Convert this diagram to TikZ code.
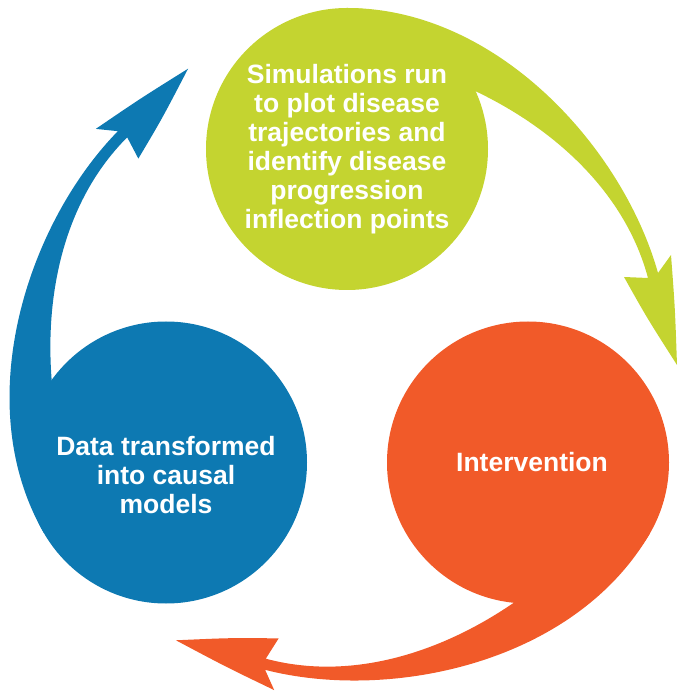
\documentclass[tikz,border=0pt]{standalone}
\usepackage{fontspec}
\setmainfont{Liberation Sans}
\definecolor{simgreen}{HTML}{C4D430}
\definecolor{intorange}{HTML}{F15A29}
\definecolor{datblue}{HTML}{0D79B2}
\tikzset{
	bubble/.style={circle, minimum size=282pt, inner sep=0pt, align=center, text=white,
		font=\fontsize{26.5}{29}\selectfont\bfseries},
	tail/.style={fill=#1, draw=none}
}
\begin{document}
\begin{tikzpicture}[x=1pt,y=1pt]
		\def\d{209}
		\useasboundingbox (-347,-342) rectangle (339,358);
		\foreach \a/\col in {0/simgreen, -120/intorange, 120/datblue}{
			\fill[tail=\col, rotate=\a] (0,\d) -- (0,350)
				.. controls (150,350) and (276,210) .. (311,85)
				-- (324,103) .. controls (328,50) .. (330,-7)
				.. controls (300,40) .. (277,81) -- (301,80)
				.. controls (278,166) and (207,230) .. (126,268) -- cycle;
		}
		\node[bubble, fill=simgreen] (Sim) at (90:\d) {Simulations run\\to plot disease\\trajectories and\\identify disease\\progression\\inflection points};
		\node[bubble, fill=intorange] (Int) at (-30:\d) {\hspace{8pt}Intervention};
		\node[bubble, fill=datblue] (Dat) at (210:\d) {};
		\node[bubble, minimum size=0pt] (DatTxt) at ([yshift=-13pt]Dat.center) {Data transformed\\into causal\\models};
		\end{tikzpicture}
\end{document}
